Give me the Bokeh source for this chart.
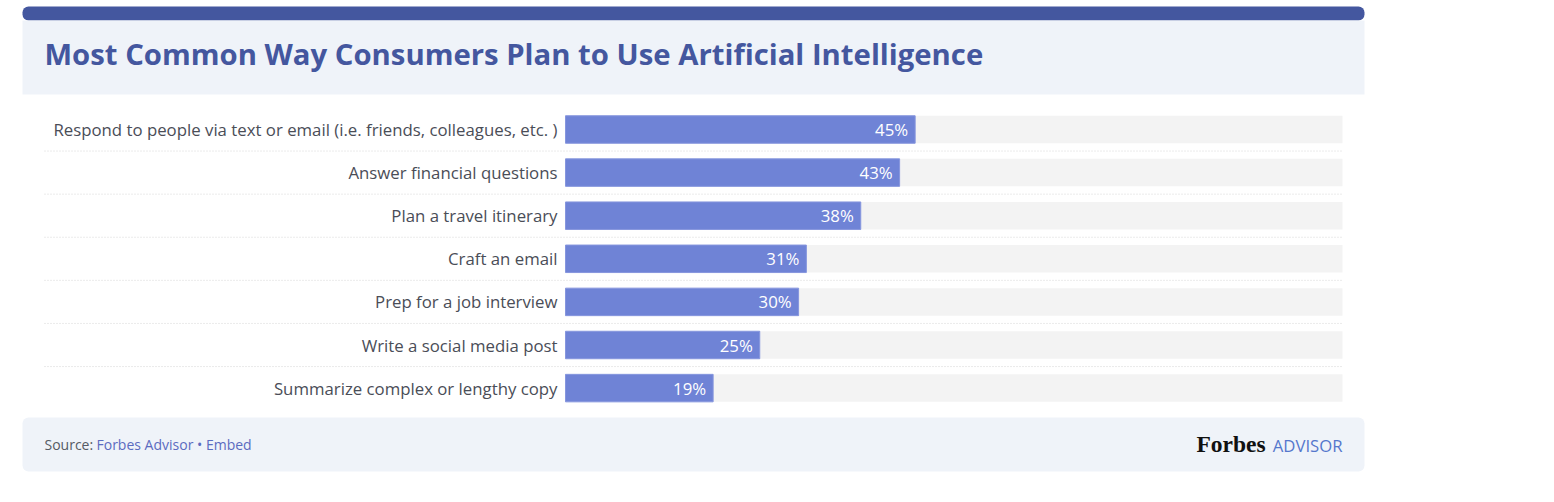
from bokeh.plotting import figure
from bokeh.models import Range1d, BoxAnnotation
from bokeh.core.properties import value
from bokeh.embed import file_html
from bokeh.resources import INLINE

# ---- data ----
categories = [
    "Respond to people via text or email (i.e. friends, colleagues, etc. )",
    "Answer financial questions",
    "Plan a travel itinerary",
    "Craft an email",
    "Prep for a job interview",
    "Write a social media post",
    "Summarize complex or lengthy copy",
]
values = [45, 43, 38, 31, 30, 25, 19]
value_labels = [f"{v}%" for v in values]
title_text = "Most Common Way Consumers Plan to Use Artificial Intelligence"

# ---- layout constants (image pixel coordinates) ----
W, H = 1540, 490
IMG_X0, IMG_Y0 = 0, 0
BAR_X0, BAR_X100 = 565, 1342
PX_PER_PCT = (BAR_X100 - BAR_X0) / 100.0
ROW0, ROW_STEP, BAR_H = 129.0, 43.1, 27.5
CARD_L, CARD_R = 22, 1364

FONT = "Open Sans"
TITLE_BLUE = "#44579f"
HEADER_BG = "#eff3f9"
BAR_COLOR = "#6f83d6"
TRACK_COLOR = "#f3f3f3"
LABEL_COLOR = "#4a4d57"

x_start = (IMG_X0 - BAR_X0) / PX_PER_PCT
x_end = (IMG_X0 + W - BAR_X0) / PX_PER_PCT

p = figure(width=W, height=H, output_backend="svg", toolbar_location=None,
           x_range=Range1d(x_start, x_end), y_range=Range1d(IMG_Y0 + H, IMG_Y0),
           min_border=0, outline_line_color=None, background_fill_color="white",
           border_fill_color="white")
p.extra_x_ranges = {"px": Range1d(IMG_X0, IMG_X0 + W)}
p.axis.visible = False
p.grid.visible = False

# ---- card decorations ----
p.add_layout(BoxAnnotation(left=CARD_L, right=CARD_R, top=6, bottom=20,
                           x_range_name="px", fill_color=TITLE_BLUE, fill_alpha=1,
                           line_color=None, border_radius=6, level="underlay"))
p.add_layout(BoxAnnotation(left=CARD_L, right=CARD_R, top=20, bottom=94,
                           x_range_name="px", fill_color=HEADER_BG, fill_alpha=1,
                           line_color=None, level="underlay"))
p.add_layout(BoxAnnotation(left=CARD_L, right=CARD_R, top=417, bottom=471,
                           x_range_name="px", fill_color=HEADER_BG, fill_alpha=1,
                           line_color=None, border_radius=6, level="underlay"))

# title
p.text(x=[44], y=[53], text=[title_text], x_range_name="px",
       text_font=value(FONT), text_font_style="bold", text_font_size="29.3px",
       text_color=TITLE_BLUE, text_baseline="middle", text_align="left")

# ---- rows ----
n = len(categories)
ys = [ROW0 + i * ROW_STEP for i in range(n)]
sep_ys = [y + ROW_STEP / 2 for y in ys[:-1]]

for sy in sep_ys:
    p.line(x=[44, 1342], y=[sy, sy], x_range_name="px", line_color="#d6d6d6",
           line_width=1, line_dash="1 2")

p.hbar(y=ys, left=0, right=[100] * n, height=BAR_H, fill_color=TRACK_COLOR,
       line_color=None)
p.hbar(y=ys, left=0, right=values, height=BAR_H, fill_color=BAR_COLOR,
       line_color="#8696de", line_width=1)

p.text(x=[0] * n, y=ys, text=categories, x_offset=-8,
       text_font=value(FONT), text_font_size="16.8px", text_color=LABEL_COLOR,
       text_align="right", text_baseline="middle")
p.text(x=values, y=ys, text=value_labels, x_offset=-7,
       text_font=value(FONT), text_font_size="16.8px", text_color="white",
       text_align="right", text_baseline="middle")

# ---- footer ----
p.text(x=[44], y=[444], text=["Source:"], x_range_name="px",
       text_font=value(FONT), text_font_size="14px", text_color="#555a64",
       text_baseline="middle")
p.text(x=[96], y=[444], text=["Forbes Advisor \u2022 Embed"], x_range_name="px",
       text_font=value(FONT), text_font_size="14px", text_color="#5b6bc0",
       text_baseline="middle")
p.text(x=[1196], y=[443], text=["Forbes"], x_range_name="px",
       text_font=value("Liberation Serif"), text_font_style="bold",
       text_font_size="23.5px", text_color="#111111", text_baseline="middle")
p.text(x=[1342], y=[445], text=["ADVISOR"], x_range_name="px",
       text_font=value(FONT), text_font_size="16.7px", text_color="#5577cc",
       text_baseline="middle", text_align="right")

open("out.html", "w").write(file_html(p, INLINE))
